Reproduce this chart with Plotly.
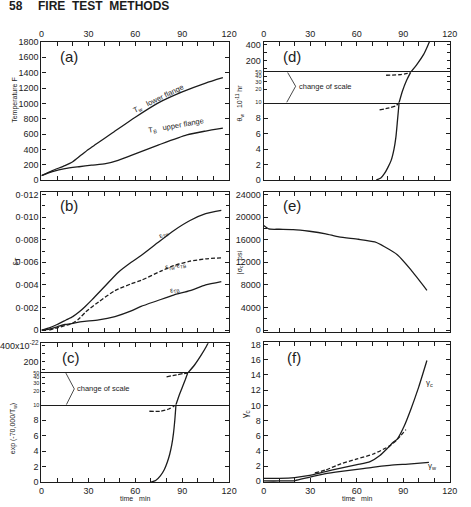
import math
import plotly.graph_objects as go

W, H = 471, 507
INK = "#1c1c1c"
FONT = "Liberation Sans"

# ---------------- data ----------------
# (a) temperatures, deg F
a_tw_time = [0, 7, 15, 20, 25, 30, 35, 45, 60, 75, 90, 105, 116]
a_tw_temp = [60, 125, 190, 240, 320, 400, 470, 610, 820, 1010, 1150, 1265, 1335]
a_tb_time = [0, 7, 15, 24, 32, 41, 49, 57, 75, 93, 105, 116]
a_tb_temp = [60, 110, 150, 175, 195, 215, 259, 320, 460, 590, 640, 678]

# (b) thermal strains
b_tw_time = [0, 5, 10, 15.7, 20, 24, 28, 32.4, 40.7, 49, 57.4, 63.7, 74, 84.5, 95, 105, 115]
b_tw_eps = [0, 0.0002, 0.0005, 0.0009, 0.0012, 0.0016, 0.0021, 0.0027, 0.0039, 0.0051,
            0.0060, 0.0066, 0.0077, 0.0088, 0.0097, 0.0103, 0.0106]
b_diff_time = [5, 10, 15, 19.8, 24, 28.2, 36.6, 47, 57.4, 63.7, 76, 84.5, 95, 105, 115]
b_diff_eps = [0, 0.0002, 0.0004, 0.0006, 0.0010, 0.0016, 0.0025, 0.0035, 0.0041, 0.0044,
              0.0052, 0.0057, 0.0061, 0.0063, 0.0064]
b_tb_time = [0, 5, 10, 15, 20, 26, 36.6, 47, 57.4, 63.7, 74, 84.5, 95, 105, 115]
b_tb_eps = [0, 0.0001, 0.0003, 0.0005, 0.0006, 0.00075, 0.0009, 0.0012, 0.0017, 0.0021,
            0.0026, 0.0031, 0.0035, 0.0040, 0.0043]

# (c) exp(-70000/Tw), three scale sections
c_low_time = [70, 73, 76, 78.5, 80.5, 82, 83.3, 84.4, 85.3, 86]
c_low_val = [0, 0.2, 0.8, 1.6, 2.6, 3.6, 4.8, 6.3, 8.1, 10]
c_low_dash_time = [69, 76, 81.4, 84.5, 86]
c_low_dash_val = [9.16, 9.16, 9.45, 9.8, 10]
c_mid_time = [86, 88, 90, 92, 93.5]
c_mid_val = [10, 16, 24, 36, 50]
c_mid_dash_time = [80, 86.6, 90.8, 93.5]
c_mid_dash_val = [41.4, 45.8, 48.8, 50]
c_high_time = [93.5, 98.1, 102.3, 105.4, 107]
c_high_val = [50, 161, 288, 394, 457]

# (d) theta_w, three scale sections
d_low_time = [72.6, 75.5, 77.9, 80, 82.1, 84, 85.2, 86.2, 87.3]
d_low_val = [0, 0.25, 0.84, 1.6, 2.5, 4.0, 5.5, 7.6, 10]
d_low_dash_time = [74.7, 81, 85.2, 87.3]
d_low_dash_val = [9.06, 9.3, 9.57, 10]
d_mid_time = [87.3, 89.4, 92.2, 94.7]
d_mid_val = [10, 18.2, 33.1, 50]
d_mid_dash_time = [78.9, 88.4, 92.6, 94.7]
d_mid_dash_val = [42.8, 44.4, 47.5, 50]
d_high_time = [94.7, 98.9, 103.1, 105.6, 106.9]
d_high_val = [50, 153, 276, 379, 440]

# (e) |sigma_c|, psi
e_time = [0, 3.3, 10, 19, 29.5, 40, 48.5, 61, 71.6, 77.9, 86.3, 94.8, 105.2]
e_stress = [18500, 17900, 17850, 17800, 17500, 17050, 16500, 16080, 15600, 14750, 13300, 10700, 7050]

# (f) gamma
f_c_time = [0, 10, 20, 28.6, 39.2, 49.7, 60.2, 68.6, 74.9, 80, 83.3, 86.2, 90.5, 94.7, 99.9, 105.2]
f_c_val = [0.4, 0.4, 0.5, 0.75, 1.25, 1.75, 2.2, 2.6, 3.4, 4.4, 5.1, 5.6, 7.25, 9.4, 12.4, 15.9]
f_dash_time = [33, 40, 49.7, 60.2, 70.7, 81.2, 86, 91.7]
f_dash_val = [1.1, 1.5, 2.3, 2.95, 3.6, 4.67, 5.5, 6.8]
f_w_time = [0, 10, 20.2, 28.6, 39.2, 50, 60.2, 70, 81.2, 95, 106.5]
f_w_val = [0.05, 0.05, 0.1, 0.5, 0.97, 1.3, 1.57, 1.85, 2.1, 2.3, 2.5]

# tick labels
time_ticks = [0, 30, 60, 90, 120]
a_ticks = [0, 200, 400, 600, 800, 1000, 1200, 1400, 1600, 1800]
b_ticks = [0, 0.002, 0.004, 0.006, 0.008, 0.010, 0.012]
b_ticktext = ["0", "0·002", "0·004", "0·006", "0·008", "0·010", "0·012"]
low_ticks = [0, 2, 4, 6, 8]
mid_ticks = [10, 20, 30, 40, 50]
high_ticks = [100, 200, 300, 400]
c_high_text = ["", "200", "", "400x10<sup>-22</sup>"]
d_high_text = ["", "200", "", "400"]
e_ticks = [0, 4000, 8000, 12000, 16000, 20000, 24000]
e_ticktext = ["0", "4000", "8000", "12000", "16000", "20000", "24000"]
f_ticks = [0, 2, 4, 6, 8, 10, 12, 14, 16, 18]

# ---------------- layout helpers ----------------
LEFT = (37.5, 230.5)
RIGHT = (266.0, 457.5)
sub = {
    1: (LEFT, (37.7, 178.7)),
    2: (LEFT, (191.0, 333.3)),
    3: (LEFT, (407.8, 486.7)),
    4: (LEFT, (375.5, 407.8)),
    5: (LEFT, (345.0, 375.5)),
    6: (RIGHT, (99.5, 178.5)),
    7: (RIGHT, (68.7, 99.5)),
    8: (RIGHT, (37.7, 68.7)),
    9: (RIGHT, (191.0, 333.3)),
    10: (RIGHT, (343.3, 486.7)),
}

tickfont = dict(family=FONT, size=9, color=INK)
smallfont = dict(family=FONT, size=5.5, color=INK)
base = dict(showline=True, linecolor=INK, linewidth=1.2, showgrid=False, zeroline=False,
            tickcolor=INK, tickwidth=1, ticklen=4, tickfont=tickfont)

# x-axis settings: (side, ticks, labels, mirror)
xspec = {
    1: ("top", "inside", True, "ticks"),
    2: ("bottom", "inside", False, "ticks"),
    3: ("bottom", "inside", True, False),
    4: ("bottom", "", False, True),
    5: ("top", "inside", False, False),
    6: ("bottom", "inside", False, False),
    7: ("bottom", "", False, True),
    8: ("top", "inside", True, False),
    9: ("bottom", "inside", False, "ticks"),
    10: ("bottom", "inside", True, "ticks"),
}

yspec = {
    1: dict(range=[0, 1800], tickvals=a_ticks),
    2: dict(range=[-0.00014, 0.0122], tickvals=b_ticks, ticktext=b_ticktext,
            minor=dict(ticks="inside", ticklen=3, tickcolor=INK, tickvals=[0.001, 0.003, 0.005, 0.007, 0.009, 0.011])),
    3: dict(range=[0, 10], tickvals=low_ticks),
    4: dict(type="log", range=[1, math.log10(50)], tickvals=mid_ticks, tickfont=smallfont, ticklen=3),
    5: dict(range=[50, 436], tickvals=high_ticks, ticktext=c_high_text, ticklen=3),
    6: dict(range=[0, 10], tickvals=low_ticks),
    7: dict(type="log", range=[1, math.log10(50)], tickvals=mid_ticks, tickfont=smallfont, ticklen=3),
    8: dict(range=[50, 433], tickvals=high_ticks, ticktext=d_high_text, ticklen=3),
    9: dict(range=[-280, 24400], tickvals=e_ticks, ticktext=e_ticktext,
            minor=dict(ticks="inside", ticklen=3, tickcolor=INK, tickvals=[2000, 6000, 10000, 14000, 18000, 22000])),
    10: dict(range=[-0.1, 18.4], tickvals=f_ticks),
}

layout_axes = {}
for i, ((x0, x1), (ytop, ybot)) in sub.items():
    sfx = "" if i == 1 else str(i)
    side, ticks, labels, mirror = xspec[i]
    xa = dict(base)
    xa.update(domain=[x0 / W, x1 / W], range=[0, 120], anchor="y" + sfx, side=side,
              ticks=ticks, showticklabels=labels, mirror=mirror, tickvals=time_ticks)
    if ticks:
        xa["minor"] = dict(ticks="inside", ticklen=4, tickcolor=INK, dtick=10, tick0=0)
    ya = dict(base)
    ya.update(domain=[1 - ybot / H, 1 - ytop / H], anchor="x" + sfx, ticks="inside",
              mirror="ticks")
    ya.update(yspec[i])
    layout_axes["xaxis" + sfx] = xa
    layout_axes["yaxis" + sfx] = ya

fig = go.Figure()


def add_line(i, x, y, dash="solid"):
    sfx = "" if i == 1 else str(i)
    fig.add_trace(go.Scatter(x=x, y=y, mode="lines", xaxis="x" + sfx, yaxis="y" + sfx,
                             line=dict(color=INK, width=1.3, dash=dash, shape="spline", smoothing=0.6),
                             showlegend=False, hoverinfo="skip"))


DASH = "4px,2px"
add_line(1, a_tw_time, a_tw_temp)
add_line(1, a_tb_time, a_tb_temp)
add_line(2, b_tw_time, b_tw_eps)
add_line(2, b_diff_time, b_diff_eps, DASH)
add_line(2, b_tb_time, b_tb_eps)
add_line(3, c_low_time, c_low_val)
add_line(3, c_low_dash_time, c_low_dash_val, DASH)
add_line(4, c_mid_time, c_mid_val)
add_line(4, c_mid_dash_time, c_mid_dash_val, DASH)
add_line(5, c_high_time, c_high_val)
add_line(6, d_low_time, d_low_val)
add_line(6, d_low_dash_time, d_low_dash_val, DASH)
add_line(7, d_mid_time, d_mid_val)
add_line(7, d_mid_dash_time, d_mid_dash_val, DASH)
add_line(8, d_high_time, d_high_val)
add_line(9, e_time, e_stress)
add_line(10, f_c_time, f_c_val)
add_line(10, f_dash_time, f_dash_val, DASH)
add_line(10, f_w_time, f_w_val)

ann = []


def ptext(x, y, text, size=8, angle=0, xanchor="center", yanchor="middle", weight=None, family=FONT):
    f = dict(family=family, size=size, color=INK)
    if weight:
        f["weight"] = weight
    ann.append(dict(xref="paper", yref="paper", x=x / W, y=1 - y / H, text=text, showarrow=False,
                    textangle=angle, xanchor=xanchor, yanchor=yanchor, font=f))


# header (cut by the top edge, as in the scanned page)
ptext(2, 1, "58", size=12, xanchor="left", weight="bold")
ptext(32, 1, "FIRE  TEST  METHODS", size=12, xanchor="left", weight="bold")

# panel letters
for lx, ly, t in [(66, 53, "(a)"), (66, 205, "(b)"), (68, 360, "(c)"),
                  (295, 53, "(d)"), (295, 205, "(e)"), (297, 360, "(f)")]:
    ptext(lx, ly, t, size=15)

# y-axis titles
ptext(10, 97, "Temperature F", size=7, angle=-90)
ptext(11, 262, "ε<sub>T</sub>", size=9, angle=-90)
ptext(9, 432, "exp (-70,000/T<sub>w</sub>)", size=7, angle=-90)
ptext(241, 100, "θ<sub>w</sub>   10<sup>-11</sup> hr", size=7, angle=-90)
ptext(241, 262, "|σ<sub>c</sub>|  psi", size=7, angle=-90)
ptext(248, 417, "γ<sub>c</sub>", size=9, angle=-90)

# x-axis titles
ptext(134, 503, "time   min", size=7)
ptext(362, 503, "time   min", size=7)

# curve labels
ptext(158, 96, "T<sub>w</sub>   lower flange", size=7.5, angle=-26)
ptext(176, 123, "T<sub>B</sub>   upper flange", size=7.5, angle=-10)
ptext(164, 234, "ε<sub>Tw</sub>", size=7, angle=-30)
ptext(175, 266, "ε<sub>Tw</sub>-ε<sub>TB</sub>", size=7, angle=-9)
ptext(174, 291, "ε<sub>TB</sub>", size=7, angle=-12)
ptext(437, 386, "γ<sub>c</sub>", size=8)
ptext(440, 470, "γ<sub>w</sub>", size=8)

# change of scale notes
shapes = []
for xs, ys, vx, vy, e1, e2 in [("x4", "y4", 21.0, 22.4, 15.6, 15.9), ("x7", "y7", 20.6, 23.8, 15.4, 14.8)]:
    shapes.append(dict(type="line", xref=xs, yref=ys, x0=vx, y0=vy, x1=e1, y1=50,
                       line=dict(color=INK, width=0.8)))
    shapes.append(dict(type="line", xref=xs, yref=ys, x0=vx, y0=vy, x1=e2, y1=10,
                       line=dict(color=INK, width=0.8)))
    ann.append(dict(xref=xs, yref=ys, x=vx + 0.6, y=math.log10(vy), text="change of scale",
                    showarrow=False, xanchor="left", yanchor="middle",
                    font=dict(family=FONT, size=7.5, color=INK)))

fig.update_layout(width=W, height=H, margin=dict(l=0, r=0, t=0, b=0),
                  paper_bgcolor="white", plot_bgcolor="white",
                  annotations=ann, shapes=shapes, showlegend=False, **layout_axes)

fig.write_html("out.html")
